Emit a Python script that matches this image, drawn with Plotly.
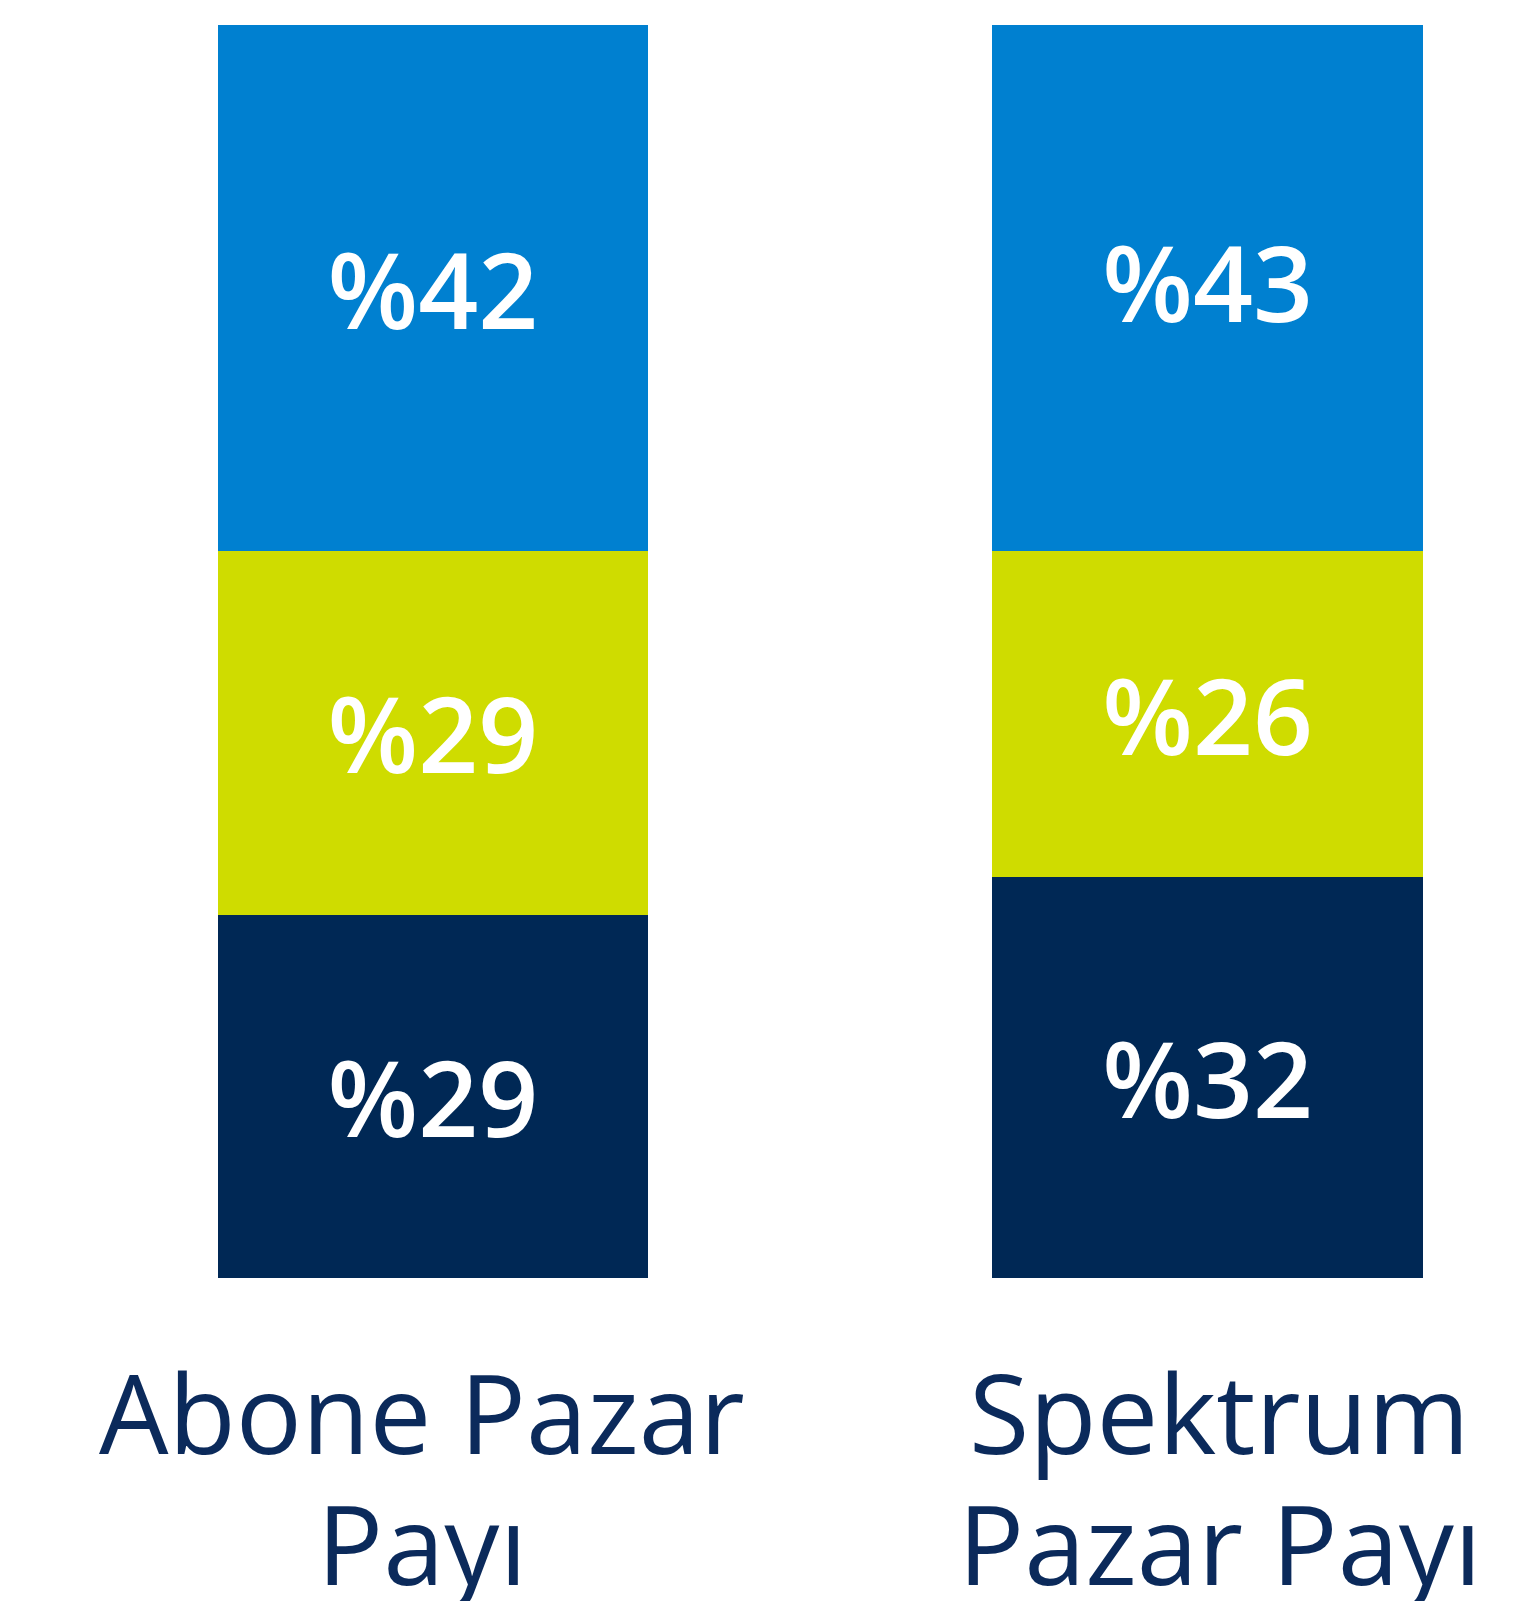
import plotly.graph_objects as go

# Data
categories = ["Abone Pazar Payı", "Spektrum Pazar Payı"]
label_lines = [["Abone Pazar", "Payı"], ["Spektrum", "Pazar Payı"]]
series_names = ["Alt", "Orta", "Üst"]
bottom_vals = [29, 32]
middle_vals = [29, 26]
top_vals = [42, 43]

colors = ["#002855", "#CFDC00", "#0080D0"]
navy_text = "#0B2A5B"

fig = go.Figure()
for name, vals, col in zip(series_names, [bottom_vals, middle_vals, top_vals], colors):
    fig.add_trace(go.Bar(
        x=categories, y=vals, name=name,
        marker=dict(color=col, line=dict(width=0)),
        text=[f"%{v}" for v in vals],
        textposition="inside", insidetextanchor="middle",
        textangle=0,
        textfont=dict(family="Open Sans", size=105, color="white", weight=600),
        cliponaxis=True,
        hoverinfo="skip",
    ))

# category labels as two lines each
line_y = [-0.1064, -0.2110]
xshifts = [-11, 12]
for cat, lines, xs in zip(categories, label_lines, xshifts):
    for ln, yy in zip(lines, line_y):
        fig.add_annotation(
            x=cat, y=yy, xref="x", yref="paper", text=ln, showarrow=False,
            xanchor="center", yanchor="middle", xshift=xs,
            font=dict(family="Open Sans", size=110, color=navy_text),
        )

fig.update_layout(
    width=1535, height=1601,
    margin=dict(l=0, r=0, t=25, b=323, pad=0),
    barmode="stack", bargap=0.444,
    showlegend=False,
    plot_bgcolor="white", paper_bgcolor="white",
)
fig.update_xaxes(range=[-0.5589, 1.4225], showticklabels=False, showgrid=False,
                 zeroline=False, showline=False, ticks="")
fig.update_yaxes(range=[0, 100], visible=False, showgrid=False, zeroline=False)

fig.write_html("out.html", config={"displayModeBar": False},
               post_script="document.body.style.margin='0px';")
